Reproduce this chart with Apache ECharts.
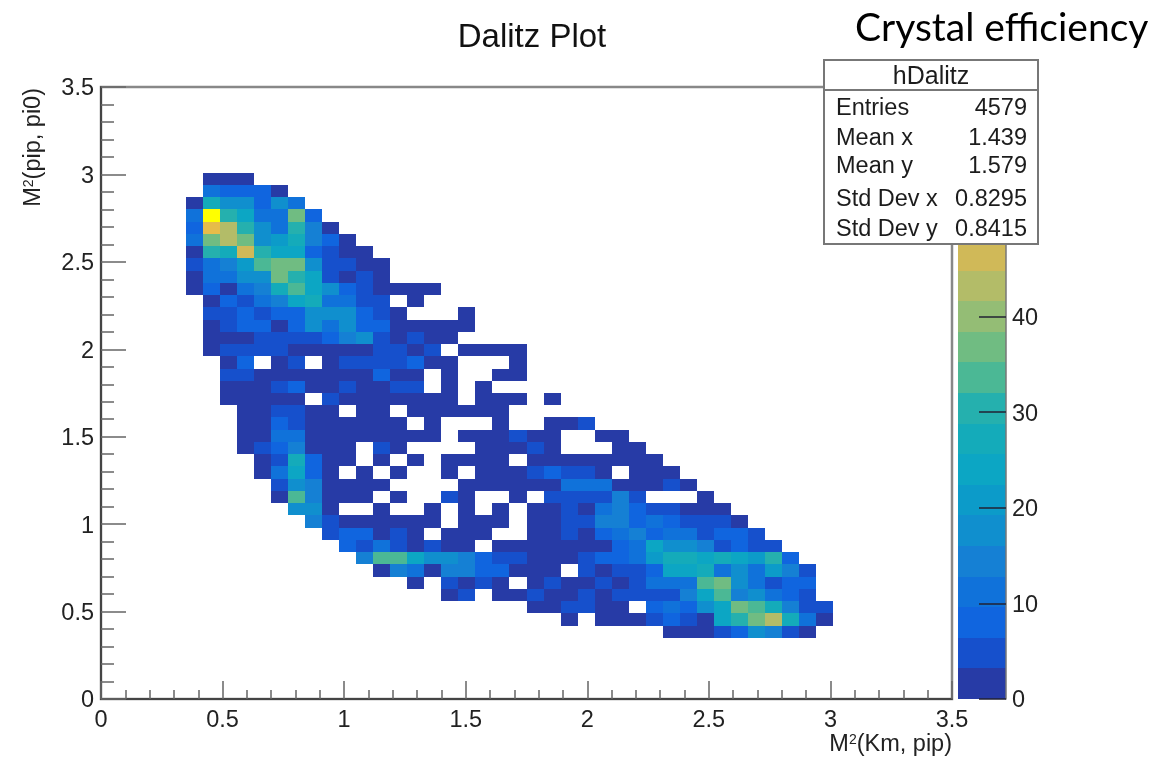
<!DOCTYPE html>
<html><head><meta charset="utf-8">
<style>html,body{margin:0;padding:0;background:#fff}#c{width:1157px;height:757px}</style>
<script src="https://cdn.jsdelivr.net/npm/echarts@6/dist/echarts.min.js"></script>
</head><body><div id="c"></div>
<script>
// Each row: first entry = index of first x bin, then bin counts (0 = empty bin).
const row42=[6,2,2,2];
const row41=[6,11,8,8,8,2];
const row40=[5,2,27,18,18,8,18,11];
const row39=[5,11,63,30,24,11,11,37,8];
const row38=[5,8,50,43,30,18,11,30,14,2];
const row37=[5,11,37,43,37,18,21,27,14,8,2];
const row36=[5,2,30,27,46,30,24,24,8,5,2,2];
const row35=[5,5,11,14,21,34,37,37,18,5,5,2,2];
const row34=[5,2,11,11,18,18,37,30,24,5,2,5,2];
const row33=[5,2,8,2,11,14,27,34,24,18,8,5,2,2,2,2];
const row32=[6,2,8,5,11,14,24,27,11,11,5,5,0,2];
const row31=[6,5,5,8,5,8,8,18,18,18,8,5,2,0,0,0,2];
const row30=[6,2,5,8,8,2,8,18,11,18,8,8,2,2,2,2,2];
const row29=[6,2,2,2,5,5,5,5,8,14,18,5,2,5,2,2];
const row28=[6,2,5,5,5,5,2,2,2,2,2,5,5,2,5,0,2,2,2,2];
const row27=[7,2,8,0,2,5,0,2,5,5,5,5,8,2,2,0,0,0,2];
const row26=[7,5,5,2,2,2,2,2,2,2,8,2,2,0,2,0,0,2,2];
const row25=[7,2,2,2,5,8,2,2,5,2,2,5,5,0,2,0,2];
const row24=[7,2,2,2,2,2,0,5,2,2,2,2,2,2,2,0,2,2,2,0,2];
const row23=[8,2,2,5,5,2,2,0,2,2,0,2,2,2,2,2,2];
const row22=[8,2,2,8,5,2,2,2,2,2,2,0,2,0,0,0,2,0,0,2,2,5];
const row21=[8,2,2,11,11,2,2,2,2,2,2,2,2,0,2,2,2,5,2,2,0,0,2,2];
const row20=[8,2,5,8,14,2,2,2,0,5,2,0,0,0,0,2,2,2,5,2,0,0,0,2,2];
const row19=[9,2,5,27,8,2,2,0,2,0,2,0,2,2,2,2,0,2,2,2,2,2,2,2,2];
const row18=[9,2,11,24,8,2,0,2,0,2,0,0,2,0,2,2,2,5,8,5,5,2,0,2,2,2];
const row17=[10,5,18,14,2,2,2,2,0,0,0,0,2,2,2,2,2,2,11,11,11,2,2,2,5,2];
const row16=[10,2,34,14,2,2,2,0,2,0,0,5,2,0,0,2,0,5,5,5,5,14,5,0,0,0,2];
const row15=[11,18,18,2,0,0,2,0,0,2,0,2,0,2,0,2,2,5,2,11,14,8,5,5,2,2,2];
const row14=[12,14,5,2,2,2,2,2,2,0,2,2,2,0,2,2,5,5,14,14,8,11,8,5,5,5,2];
const row13=[13,5,8,8,2,5,2,0,2,2,2,0,0,2,2,5,2,8,11,14,8,11,11,5,8,8,5];
const row12=[14,8,5,11,5,2,5,2,2,0,2,2,2,2,2,2,2,8,11,24,18,18,14,5,8,5,5];
const row11=[15,14,34,34,24,18,18,14,8,5,5,2,2,2,5,8,8,11,21,27,27,24,27,24,21,30,8];
const row10=[16,2,14,11,2,14,14,8,8,2,2,2,0,5,2,5,5,8,24,24,27,11,18,11,21,14,5];
const row9=[18,2,0,5,2,5,2,0,2,5,2,2,5,2,5,11,11,11,34,37,18,11,5,8,8];
const row8=[20,2,5,0,2,2,5,2,2,5,2,5,5,5,5,14,24,34,14,18,11,8,5];
const row7=[25,2,2,5,5,2,2,0,8,11,8,18,24,37,34,27,14,5,5];
const row6=[27,2,0,2,2,2,5,8,5,2,24,30,37,43,27,11,2];
const row5=[33,2,2,2,5,8,18,14,5,2];
// rows listed with their y-bin index
const rows=[[42,row42],[41,row41],[40,row40],[39,row39],[38,row38],[37,row37],[36,row36],[35,row35],[34,row34],[33,row33],[32,row32],[31,row31],[30,row30],[29,row29],[28,row28],[27,row27],[26,row26],[25,row25],[24,row24],[23,row23],[22,row22],[21,row21],[20,row20],[19,row19],[18,row18],[17,row17],[16,row16],[15,row15],[14,row14],[13,row13],[12,row12],[11,row11],[10,row10],[9,row9],[8,row8],[7,row7],[6,row6],[5,row5]];
const binWidth=0.07;
const bandWidth=3.2;
const bandColors=['#273BA6','#1650CC','#1065DF','#1072DA','#1580D4','#108FCE','#0C9BC9','#0CA6C4','#14ABBA','#25B0AE','#4BB895','#70BC82','#94BD75','#B3BC68','#D0B958','#E6BC4A','#F0C63C','#F6D52A','#FAE818','#FFFF00'];
const statLabels=['Entries','Mean x','Mean y','Std Dev x','Std Dev y'];
const statValues=['4579','1.439','1.579','0.8295','0.8415'];

const cells=[];
rows.forEach(([yBin,r])=>{
  r.slice(1).forEach((v,i)=>{ if(v>0) cells.push([(r[0]+i)*binWidth,yBin*binWidth,v]); });
});
const bands=bandColors.map((c,i)=>[i*bandWidth,(i+1)*bandWidth]);
const colorOf=v=>bandColors[Math.min(bandColors.length-1,Math.floor(v/bandWidth))];

const font='"Liberation Sans",Arial,sans-serif';
const tickLabel={fontFamily:font,fontSize:23.5,color:'#222'};
const shifted={a:{fontFamily:font,fontSize:23.5,color:'#222',padding:[4,0,0,0]}};
const statRowY=[109,139,167,200,230];
const graphic=[
 {type:'rect',z:100,shape:{x:824,y:60,width:214,height:184},style:{fill:'#fff',stroke:'#777',lineWidth:2}},
 {type:'line',z:101,shape:{x1:824,y1:90,x2:1038,y2:90},style:{stroke:'#777',lineWidth:2}},
 {type:'text',z:101,x:931,y:77,style:{text:'hDalitz',fontFamily:font,fontSize:25,fill:'#1c1c1c',textAlign:'center',textVerticalAlign:'middle'}}
];
statLabels.forEach((t,i)=>{
 graphic.push({type:'text',z:101,x:836,y:statRowY[i],style:{text:t,fontFamily:font,fontSize:23.5,fill:'#1c1c1c',textAlign:'left',textVerticalAlign:'middle'}});
 graphic.push({type:'text',z:101,x:1027,y:statRowY[i],style:{text:statValues[i],fontFamily:font,fontSize:23.5,fill:'#1c1c1c',textAlign:'right',textVerticalAlign:'middle'}});
});

const nameRich={m:{fontFamily:font,fontSize:23.5,color:'#222'},s:{fontFamily:font,fontSize:14,color:'#222',verticalAlign:'top'}};
const option={
 animation:false,backgroundColor:'#fff',
 title:[
  {text:'Dalitz Plot',left:527,top:16,textAlign:'center',textStyle:{fontFamily:font,fontSize:33,fontWeight:'normal',color:'#111'}},
  {text:'Crystal efficiency',left:850,top:4,textStyle:{fontFamily:'Lato',fontSize:39,fontWeight:'normal',color:'#000'}}
 ],
 grid:[
  {left:101,top:87,width:851,height:612,show:true,borderColor:'#888',borderWidth:2.5,backgroundColor:'transparent'},
  {left:958,top:87,width:48,height:612}
 ],
 xAxis:[
  {gridIndex:0,type:'value',min:0,max:3.5,interval:0.5,
   name:'{m|M}{s|2}{m|(Km, pip)}',nameLocation:'end',nameGap:0,
   nameTextStyle:{align:'right',verticalAlign:'top',padding:[34,0,0,0],rich:nameRich},
   axisLine:{onZero:false,lineStyle:{color:'#444',width:2}},
   axisTick:{inside:true,length:18,lineStyle:{color:'#666',width:1.5}},
   minorTick:{show:true,splitNumber:5,length:9,lineStyle:{color:'#666',width:1.5}},
   splitLine:{show:false},minorSplitLine:{show:false},
   axisLabel:{...tickLabel,margin:10,showMinLabel:true,showMaxLabel:true}},
  {gridIndex:1,type:'value',min:0,max:1,show:false}
 ],
 yAxis:[
  {gridIndex:0,type:'value',min:0,max:3.5,interval:0.5,
   name:'{m|M}{s|2}{m|(pip, pi0)}',nameLocation:'end',nameGap:-1,nameRotate:90,
   nameTextStyle:{align:'right',verticalAlign:'bottom',padding:[0,0,55,0],rich:nameRich},
   axisLine:{onZero:false,lineStyle:{color:'#444',width:2}},
   axisTick:{inside:true,length:25,lineStyle:{color:'#666',width:1.5}},
   minorTick:{show:true,splitNumber:5,length:13,lineStyle:{color:'#666',width:1.5}},
   splitLine:{show:false},minorSplitLine:{show:false},
   axisLabel:{...tickLabel,margin:7,rich:shifted,formatter:v=>'{a|'+v+'}',showMinLabel:true,showMaxLabel:true}},
  {gridIndex:1,type:'value',min:0,max:64,interval:10,position:'right',z:5,
   axisLine:{show:true,onZero:false,lineStyle:{color:'#777',width:1.5}},
   axisTick:{show:true,inside:true,length:27,lineStyle:{color:'#223',width:1.5}},
   splitLine:{show:false},
   axisLabel:{...tickLabel,margin:6,rich:shifted,showMaxLabel:false,formatter:v=>v>=50?'':'{a|'+v+'}'}}
 ],
 series:[
  {type:'custom',name:'hDalitz',xAxisIndex:0,yAxisIndex:0,data:cells,
   encode:{x:0,y:1},
   renderItem:(p,api)=>{
    const x=api.value(0),y=api.value(1),v=api.value(2);
    const a=api.coord([x,y+binWidth]),b=api.coord([x+binWidth,y]);
    const l=Math.round(a[0]),t=Math.round(a[1]),r=Math.round(b[0]),d=Math.round(b[1]);
    return {type:'rect',shape:{x:l,y:t,width:r-l,height:d-t},style:{fill:colorOf(v)}};
   }},
  {type:'custom',name:'palette',xAxisIndex:1,yAxisIndex:1,data:bands,
   encode:{y:[0,1]},z:1,
   renderItem:(p,api)=>{
    const a=api.coord([0,api.value(1)]),b=api.coord([1,api.value(0)]);
    const t=Math.round(a[1]),d=Math.round(b[1]);
    return {type:'rect',shape:{x:a[0],y:t,width:b[0]-a[0],height:d-t},style:{fill:bandColors[p.dataIndex]}};
   }}
 ],
 graphic:graphic
};
echarts.init(document.getElementById('c'),null,{renderer:'canvas'}).setOption(option);
</script></body></html>
